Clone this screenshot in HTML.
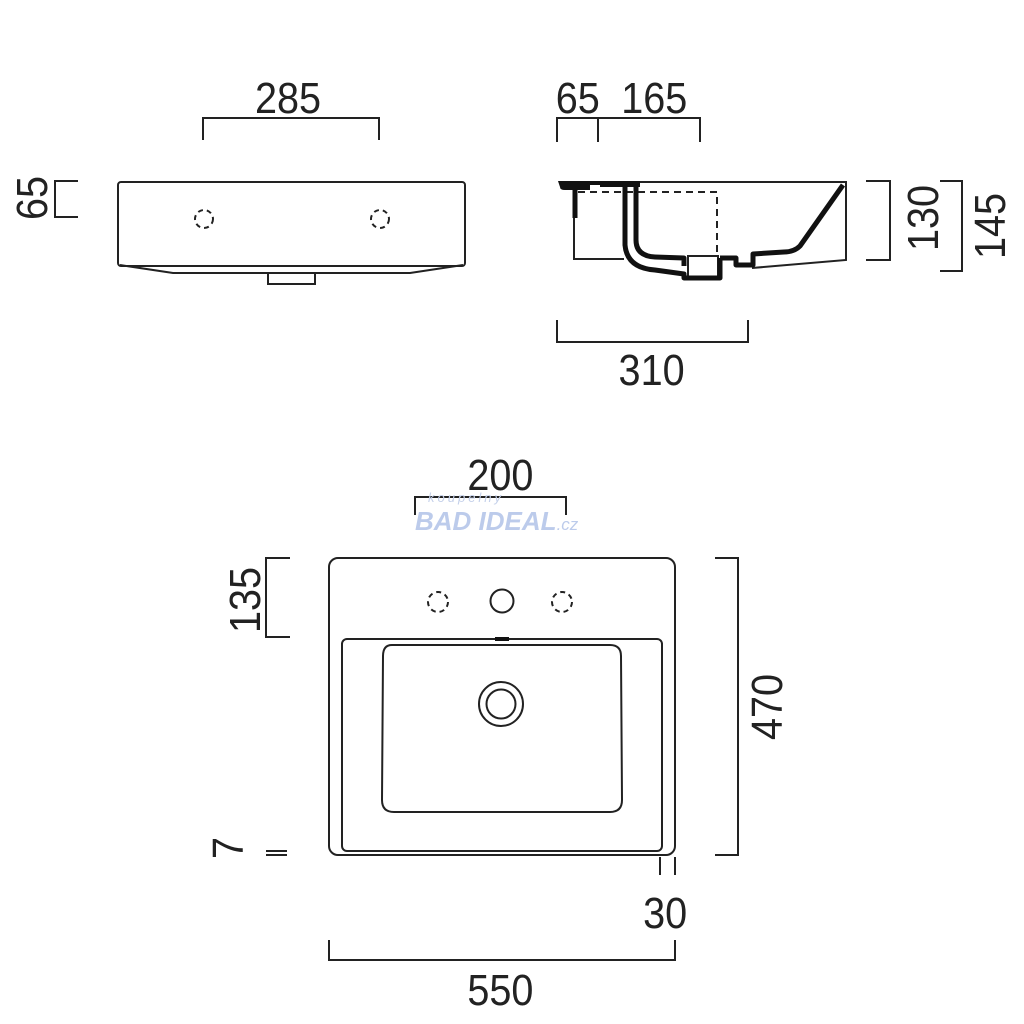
<!DOCTYPE html>
<html><head><meta charset="utf-8"><style>
html,body{margin:0;padding:0;background:#fff}
svg{display:block}
text{font-family:"Liberation Sans Narrow","Liberation Sans",sans-serif;font-size:44px;fill:#222}
</style></head><body>
<svg width="1024" height="1024" viewBox="0 0 1024 1024" xmlns="http://www.w3.org/2000/svg">
<g fill="none" stroke="#222" stroke-width="2">
<!-- front view -->
<rect x="118" y="182" width="347" height="84" rx="3"/>
<path d="M120 265 L173 273 L410 273 L463 265"/>
<rect x="268" y="273" width="47" height="11"/>
<g stroke-dasharray="5 4"><circle cx="204" cy="219" r="9"/><circle cx="380" cy="219" r="9"/></g>
<path d="M203 140 V118 H379 V140"/>
<path d="M78 181 H55 V217 H78"/>
<!-- side view -->
<path d="M640 182 H846 V260 L752 268"/>
<path d="M574 190 V259 H624"/>
<path d="M578 192 H717 V252" stroke-dasharray="7 5"/>
<rect x="688" y="256" width="30" height="22"/>
<path d="M557 142 V118 H700 V142 M598 118 V142"/>
<path d="M866 181 H890 V260 H866"/>
<path d="M940 181 H962 V271 H940"/>
<path d="M557 320 V342 H748 V320"/>
<!-- plan view -->
<rect x="329" y="558" width="346" height="297" rx="9"/>
<rect x="342" y="639" width="320" height="212" rx="5"/>
<path d="M392 645 H610 Q621 645 621 656 L622 800 Q622 812 610 812 H394 Q382 812 382 800 L383 656 Q383 645 392 645 Z"/>
<g stroke-dasharray="5 4"><circle cx="438" cy="602" r="10"/><circle cx="562" cy="602" r="10"/></g>
<circle cx="502" cy="601" r="11.5"/>
<circle cx="501" cy="704" r="22"/><circle cx="501" cy="704" r="14.5"/>
<path d="M415 515 V497 H566 V515"/>
<path d="M290 558 H266 V637 H290"/>
<path d="M715 558 H738 V855 H715"/>
<path d="M266 851 H287 M266 855 H287"/>
<path d="M660 857 V875 M675 857 V875"/>
<path d="M329 940 V960 H675 V940"/>
</g>
<g fill="none" stroke="#111" stroke-width="5" stroke-linejoin="round">
<path d="M843 185 L800 246 Q794 252 784 252 L753 254 L753 265 L736 265 L736 258 L720 258"/>
<path d="M636 186 V240 Q636 256 655 257 L684 258 V266"/>
<path d="M625 186 V245 Q627 268 655 270 L684 274 V278 H720 V258"/>
<path d="M575 186 V218"/>
</g>
<path d="M558 181 H640 V187 H600 V185 H590 V190 H565 Q560 190 560 187 Z" fill="#111"/>
<rect x="495" y="637" width="14" height="4" fill="#111"/>
<!-- watermark -->
<text x="428" y="502" style="font-size:13px;fill:#c4d0ea;font-style:italic;letter-spacing:3px">koupelny</text>
<text x="415" y="530" style="font-size:26px;fill:#bccbeb;font-weight:bold;font-style:italic">BAD IDEAL<tspan style="font-size:17px;font-weight:normal">.cz</tspan></text>
<!-- labels -->
<g transform="scale(0.9,1)">
<text x="320" y="113" text-anchor="middle">285</text>
<text x="642" y="113" text-anchor="middle">65</text>
<text x="727" y="113" text-anchor="middle">165</text>
<text x="724" y="385" text-anchor="middle">310</text>
<text x="556" y="490" text-anchor="middle">200</text>
<text x="556" y="1005" text-anchor="middle">550</text>
<text x="739" y="928" text-anchor="middle">30</text>
</g>
<text x="0" y="0" text-anchor="middle" transform="translate(47,198) rotate(-90) scale(0.9,1)">65</text>
<text x="0" y="0" text-anchor="middle" transform="translate(938,218) rotate(-90) scale(0.9,1)">130</text>
<text x="0" y="0" text-anchor="middle" transform="translate(1005,226) rotate(-90) scale(0.9,1)">145</text>
<text x="0" y="0" text-anchor="middle" transform="translate(260,600) rotate(-90) scale(0.9,1)">135</text>
<text x="0" y="0" text-anchor="middle" transform="translate(782,707) rotate(-90) scale(0.9,1)">470</text>
<text x="0" y="0" text-anchor="middle" transform="translate(243,848) rotate(-90) scale(0.9,1)">7</text>
</svg>
</body></html>
